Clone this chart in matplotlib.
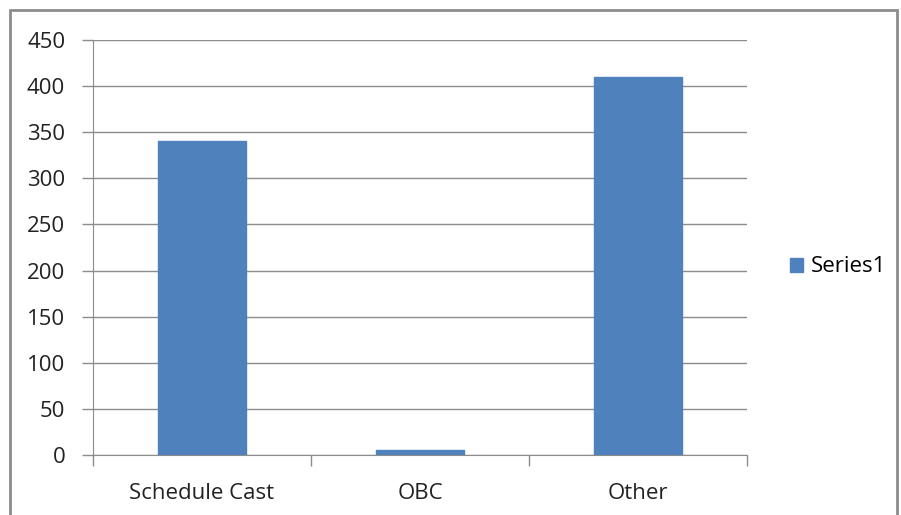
import matplotlib
matplotlib.use("Agg")
import matplotlib.pyplot as plt
from matplotlib.patches import Rectangle

categories = ["Schedule Cast", "OBC", "Other"]
values = [341, 5, 410]
yticks = [0, 50, 100, 150, 200, 250, 300, 350, 400, 450]

plt.rcParams['font.family'] = ['Open Sans', 'DejaVu Sans']
fs = 16

fig = plt.figure(figsize=(9.01, 5.15), dpi=100)
ax = fig.add_axes([93/901, 1-455/515, 654/901, 415/515])

grid_col = '#8c8c8c'
x = range(len(categories))
ax.bar(x, values, width=0.4, color='#4f81bd', edgecolor='#4f81bd', zorder=3,
       label='Series1')

ax.set_xlim(-0.5, 2.5)
ax.set_ylim(0, 450)
ax.set_yticks(yticks)
ax.set_yticklabels([str(v) for v in yticks], fontsize=fs, color='#222222')
ax.yaxis.grid(True, color=grid_col, linewidth=1.0, zorder=0)
ax.tick_params(axis='y', length=8, color=grid_col, width=1.0, pad=12)

ax.set_xticks(list(x))
ax.set_xticklabels(categories, fontsize=fs, color='#222222')
ax.tick_params(axis='x', length=0, pad=20)
ax.set_xticks([-0.5, 0.5, 1.5, 2.5], minor=True)
ax.tick_params(axis='x', which='minor', length=8, color=grid_col, width=1.0)

for s in ['top', 'right']:
    ax.spines[s].set_visible(False)
ax.spines['left'].set_color(grid_col)
ax.spines['bottom'].set_color(grid_col)

leg = fig.legend(loc='center left', bbox_to_anchor=(770/901, 1-267/515),
                 frameon=False, fontsize=fs, handlelength=0.6, handleheight=0.6,
                 handletextpad=0.35)

# outer chart border
fig.patches.append(Rectangle((10/901, -0.05), 887/901, 1.05 - 10/515,
                             transform=fig.transFigure, fill=False,
                             edgecolor='#8c8c8c', linewidth=2))

fig.savefig("out.png", dpi=100)
